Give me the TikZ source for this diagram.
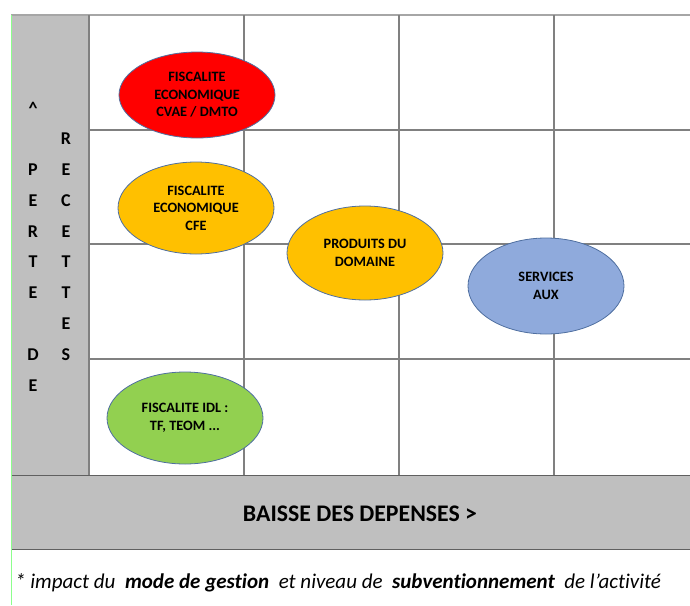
\documentclass[tikz,border=0pt]{standalone}
\usepackage{fontspec}
\setmainfont[Ligatures=NoCommon]{Carlito}
\usetikzlibrary{shapes.geometric}

\definecolor{rouge}{HTML}{FF0000}
\definecolor{orange}{HTML}{FFC000}
\definecolor{bleu}{HTML}{8FAADC}
\definecolor{vert}{HTML}{92D050}
\definecolor{contour}{HTML}{4F6FA0}
\definecolor{fond}{HTML}{BFBFBF}
\definecolor{grille}{HTML}{808080}

\begin{document}
\begin{tikzpicture}[x=1pt,y=-1pt,
    poste/.style={ellipse,draw=contour,line width=0.8pt,minimum width=156pt,
      minimum height=90pt,inner sep=0pt,align=center,
      font=\bfseries\fontsize{14.3}{17.5}\selectfont},
    lettre/.style={font=\bfseries\fontsize{18}{18}\selectfont,inner sep=0pt}]
      \useasboundingbox (0,0) rectangle (690,605);

      % gray bands: left axis and bottom axis
      \fill[fond] (11,15) rectangle (89,475);
      \draw[fond!50!black,line width=1pt,fill=fond] (11,475) rectangle (700,549);

      % grid of the matrix
      \draw[grille!70,line width=1.2pt] (11,15) -- (690,15);
      \foreach \x in {89,244,399,554}
        \draw[grille,line width=1.2pt] (\x,15) -- (\x,475);
      \foreach \y in {130,244,359}
        \draw[grille,line width=1.2pt] (89,\y) -- (690,\y);
      \draw[green!45,line width=0.8pt] (11,15) -- (11,605);

      % vertical axis label, two columns of letters
      \foreach \l [count=\i] in {\textasciicircum,,P,E,R,T,E,,D,E}
        \node[lettre] (perte\i) at (33,{108+30.8*(\i-1)}) {\l};
      \foreach \l [count=\i] in {,R,E,C,E,T,T,E,S,}
        \node[lettre] (recettes\i) at (66,{108+30.8*(\i-1)}) {\l};

      % horizontal axis label
      \node[font=\bfseries\fontsize{23.8}{24}\selectfont] (baisse) at (360,514)
        {BAISSE DES DEPENSES >};

      % activities
      \node[poste,fill=rouge,minimum height=86pt] (cvae) at (197,95)
        {FISCALITE\\ECONOMIQUE\\CVAE / DMTO};
      \node[poste,fill=orange,minimum height=92pt] (cfe) at (196,208)
        {FISCALITE\\ECONOMIQUE\\CFE};
      \node[poste,fill=orange,minimum height=94pt] (domaine) at (365,253)
        {PRODUITS DU\\DOMAINE};
      \node[poste,fill=bleu,minimum height=96pt] (services) at (546,286)
        {SERVICES\\AUX};
      \node[poste,fill=vert,minimum height=92pt] (idl) at (185,418)
        {FISCALITE IDL :\\TF, TEOM ...};

      % footnote
      \node[anchor=base west,inner sep=0pt,font=\itshape\fontsize{21}{21}\selectfont]
        (note) at (15,588)
        {* impact du \ \textbf{mode de gestion} \ et niveau de \ \textbf{subventionnement} \ de l'activité};
    \end{tikzpicture}
\end{document}
